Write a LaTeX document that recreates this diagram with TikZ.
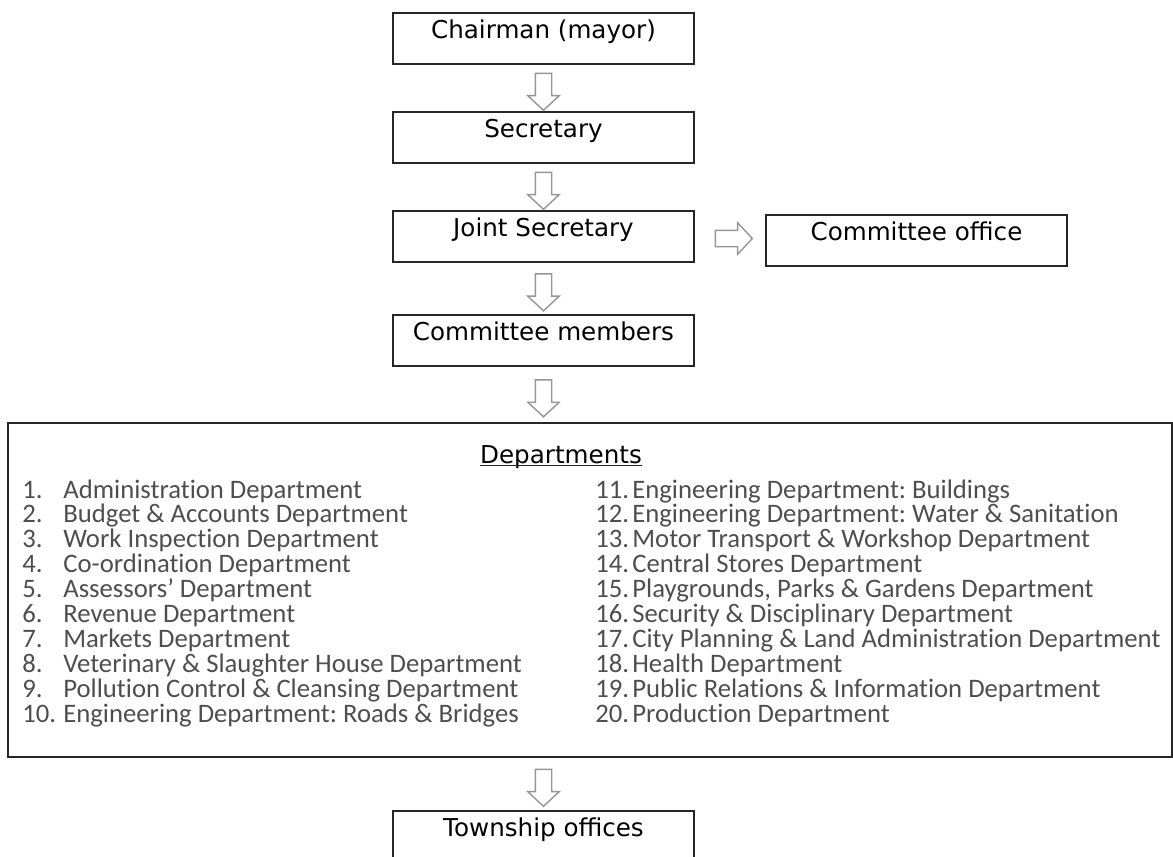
\documentclass[tikz,border=0pt]{standalone}
\usepackage{fontspec}
\setmainfont{DejaVu Sans}
\newfontfamily\listfont[Ligatures={NoCommon,NoContextual}]{Carlito}
\usetikzlibrary{shapes.arrows,calc}
\definecolor{listgray}{RGB}{78,78,78}
\definecolor{arrowgray}{RGB}{150,150,150}
\newcommand{\itemno}[2][0.82cm]{\makebox[#1][l]{#2}}
\frenchspacing

\begin{document}
\begin{tikzpicture}[x=0.02cm,y=-0.02cm,
  box/.style={draw=black!85,line width=0.8pt,minimum width=6.02cm,inner sep=0pt,
    text height=0.5cm,text depth=0.52cm,font=\fontsize{14}{16}\selectfont},
  hollow/.style={single arrow,draw=arrowgray,fill=white,line width=0.8pt,inner sep=0.15cm,
    minimum height=0.74cm,single arrow head extend=0.15cm,single arrow tip angle=94},
  item/.style={anchor=base west,inner sep=0pt,text=listgray,
    font=\listfont\fontsize{15.2}{18}\selectfont}]
\clip (0,0) rectangle (1173,856);

\node[box] (chair) at (543.5,38.5) {Chairman (mayor)};
\node[box] (sec) at (543.5,137.5) {Secretary};
\node[box] (joint) at (543.5,236.5) {Joint Secretary};
\node[box] (office) at (916.5,240.5) {Committee office};
\node[box] (members) at (543.5,340.5) {Committee members};
\node[draw=black!85,line width=0.8pt,minimum width=23.28cm,minimum height=6.68cm] (depts) at (590,590) {};
\node[box] (township) at (543.5,836.5) {Township offices};

\node[hollow,rotate=-90] (a1) at ($(chair.south)!0.5!(sec.north)$) {};
\node[hollow,rotate=-90] (a2) at ($(sec.south)!0.5!(joint.north)$) {};
\node[hollow] (a3) at ($(joint.east)!0.5!(office.west)$) {};
\node[hollow,rotate=-90] (a4) at ($(joint.south)!0.5!(members.north)$) {};
\node[hollow,rotate=-90] (a5) at ($(members.south)!0.5!(members.south|-depts.north)$) {};
\node[hollow,rotate=-90] (a6) at ($(township.north|-depts.south)!0.5!(township.north)$) {};

\node[anchor=base,inner sep=0pt,font=\fontsize{14}{16}\selectfont] (head) at (561,463) {Departments};
\draw[black!85,line width=0.7pt] ([yshift=-1.6pt]head.base west) -- ([yshift=-1.6pt]head.base east);

\node[item] (d1) at (22,498) {\itemno{1.}Administration Department};
\node[item] (d2) at (22,522.9) {\itemno{2.}Budget \& Accounts Department};
\node[item] (d3) at (22,547.8) {\itemno{3.}Work Inspection Department};
\node[item] (d4) at (22,572.7) {\itemno{4.}Co-ordination Department};
\node[item] (d5) at (22,597.6) {\itemno{5.}Assessors’ Department};
\node[item] (d6) at (22,622.5) {\itemno{6.}Revenue Department};
\node[item] (d7) at (22,647.4) {\itemno{7.}Markets Department};
\node[item] (d8) at (22,672.3) {\itemno{8.}Veterinary \& Slaughter House Department};
\node[item] (d9) at (22,697.2) {\itemno{9.}Pollution Control \& Cleansing Department};
\node[item] (d10) at (22,722.1) {\itemno{10.}Engineering Department: Roads \& Bridges};

\node[item] (d11) at (595,498) {\itemno[0.74cm]{11.}Engineering Department: Buildings};
\node[item] (d12) at (595,522.9) {\itemno[0.74cm]{12.}Engineering Department: Water \& Sanitation};
\node[item] (d13) at (595,547.8) {\itemno[0.74cm]{13.}Motor Transport \& Workshop Department};
\node[item] (d14) at (595,572.7) {\itemno[0.74cm]{14.}Central Stores Department};
\node[item] (d15) at (595,597.6) {\itemno[0.74cm]{15.}Playgrounds, Parks \& Gardens Department};
\node[item] (d16) at (595,622.5) {\itemno[0.74cm]{16.}Security \& Disciplinary Department};
\node[item] (d17) at (595,647.4) {\itemno[0.74cm]{17.}City Planning \& Land Administration Department};
\node[item] (d18) at (595,672.3) {\itemno[0.74cm]{18.}Health Department};
\node[item] (d19) at (595,697.2) {\itemno[0.74cm]{19.}Public Relations \& Information Department};
\node[item] (d20) at (595,722.1) {\itemno[0.74cm]{20.}Production Department};
\end{tikzpicture}
\end{document}
